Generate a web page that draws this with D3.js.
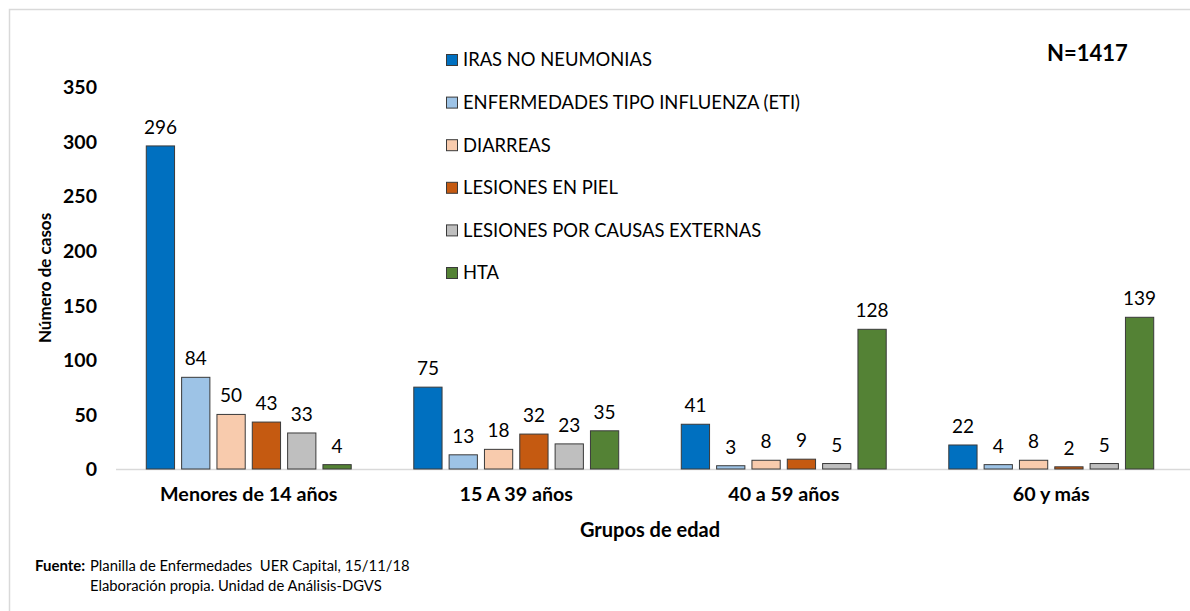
<!DOCTYPE html>
<html>
<head>
<meta charset="utf-8">
<script src="https://cdn.jsdelivr.net/npm/d3@7"></script>
<style>
  body { margin: 0; background: #fff; }
  svg text { font-family: Lato, "Open Sans", sans-serif; fill: #000; }
</style>
</head>
<body>
<script>
    // datos
    const grupos = ["Menores de 14 años", "15 A 39 años", "40 a 59 años", "60 y más"];
    const series = ["IRAS NO NEUMONIAS", "ENFERMEDADES TIPO INFLUENZA (ETI)", "DIARREAS",
                    "LESIONES EN PIEL", "LESIONES POR CAUSAS EXTERNAS", "HTA"];
    const iras     = [296, 75, 41, 22];
    const eti      = [84, 13, 3, 4];
    const diarreas = [50, 18, 8, 8];
    const piel     = [43, 32, 9, 2];
    const externas = [33, 23, 5, 5];
    const hta      = [4, 35, 128, 139];
    const yTicks   = [0, 50, 100, 150, 200, 250, 300, 350];

    const valores = [iras, eti, diarreas, piel, externas, hta];
    const colores = ["#0070C0", "#9DC3E6", "#F8CBAD", "#C55A11", "#BFBFBF", "#548235"];

    const W = 1190, H = 611;

    var svg = d3.select("body").append("svg")
                .attr("width", W)
                .attr("height", H);

    // marco del grafico
    svg.append("rect")
        .attr("x", 9.5).attr("y", 9.5)
        .attr("width", 1200).attr("height", 700)
        .attr("fill", "none")
        .attr("stroke", "#D9D9D9")
        .attr("stroke-width", 1.5);

    var x0 = d3.scaleBand()
                .domain(grupos)
                .range([115, 1185]);

    var x1 = d3.scaleBand()
                .domain(series)
                .range([-106, 106])
                .paddingInner(0.2)
                .paddingOuter(0.1);

    var y = d3.scaleLinear()
                .domain([0, 350])
                .range([469, 87]);

    // eje y (solo etiquetas)
    var yAxis = d3.axisLeft(y).tickValues(yTicks).tickSize(0).tickPadding(0);
    var gy = svg.append("g")
                .attr("transform", "translate(97,0)")
                .call(yAxis);
    gy.select(".domain").remove();
    gy.selectAll("text")
        .style("font-size", "19.5px")
        .style("font-weight", "bold")
        .attr("dy", "0.35em");

    // linea base
    svg.append("line")
        .attr("x1", 116).attr("x2", W)
        .attr("y1", y(0) + 0.5).attr("y2", y(0) + 0.5)
        .attr("stroke", "#D9D9D9")
        .attr("stroke-width", 1.5);

    // barras
    var filas = [];
    grupos.forEach(function(g, gi) {
        series.forEach(function(s, si) {
            filas.push({grupo: g, serie: s, valor: valores[si][gi], color: colores[si]});
        });
    });

    var barras = svg.append("g").selectAll(".bar")
        .data(filas)
        .enter()
        .append("g")
        .attr("transform", function(d) {
            return "translate(" + (x0(d.grupo) + x0.bandwidth() / 2) + ",0)";
        });

    barras.append("rect")
        .attr("x", function(d) { return x1(d.serie); })
        .attr("y", function(d) { return y(d.valor); })
        .attr("width", x1.bandwidth())
        .attr("height", function(d) { return y(0) - y(d.valor); })
        .attr("fill", function(d) { return d.color; })
        .attr("stroke", "#3a3a3a")
        .attr("stroke-width", 1);

    barras.append("text")
        .attr("x", function(d) { return x1(d.serie) + x1.bandwidth() / 2; })
        .attr("y", function(d) { return y(d.valor) - 12; })
        .attr("text-anchor", "middle")
        .style("font-size", "19px")
        .text(function(d) { return d.valor; });

    // eje x
    var xAxis = d3.axisBottom(x0).tickSize(0).tickPadding(0);
    var gx = svg.append("g")
                .attr("transform", "translate(0,487)")
                .call(xAxis);
    gx.select(".domain").remove();
    gx.selectAll("text")
        .style("font-size", "19.7px")
        .style("font-weight", "bold")
        .attr("dy", "0.71em");

    // titulos de ejes
    svg.append("text")
        .attr("x", 650).attr("y", 537)
        .attr("text-anchor", "middle")
        .style("font-size", "20px")
        .style("font-weight", "bold")
        .text("Grupos de edad");

    svg.append("text")
        .attr("transform", "translate(51,278) rotate(-90)")
        .attr("text-anchor", "middle")
        .style("font-size", "17px")
        .style("font-weight", "bold")
        .text("Número de casos");

    // leyenda
    var ley = svg.append("g").selectAll("g")
        .data(series)
        .enter()
        .append("g")
        .attr("transform", function(d, i) { return "translate(446," + (60 + i * 42.6) + ")"; });

    ley.append("rect")
        .attr("x", 0.5).attr("y", -5.5)
        .attr("width", 11).attr("height", 11)
        .attr("fill", function(d, i) { return colores[i]; })
        .attr("stroke", "#3a3a3a")
        .attr("stroke-width", 1);

    ley.append("text")
        .attr("x", 17).attr("y", 0)
        .attr("dy", "0.35em")
        .style("font-size", "18.4px")
        .text(function(d) { return d; });

    svg.append("text")
        .attr("x", 1047).attr("y", 61)
        .style("font-size", "22px")
        .style("font-weight", "bold")
        .text("N=1417");

    // fuente
    svg.append("text")
        .attr("x", 35).attr("y", 571)
        .style("font-size", "15px")
        .style("font-weight", "bold")
        .text("Fuente:");
    svg.append("text")
        .attr("x", 90).attr("y", 571)
        .style("font-size", "14.8px")
        .style("white-space", "pre")
        .text("Planilla de Enfermedades  UER Capital, 15/11/18");
    svg.append("text")
        .attr("x", 90).attr("y", 591)
        .style("font-size", "14.8px")
        .text("Elaboración propia. Unidad de Análisis-DGVS");
</script>
</body>
</html>
